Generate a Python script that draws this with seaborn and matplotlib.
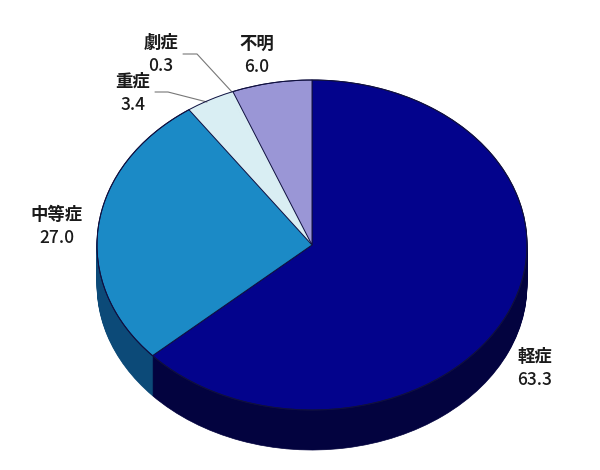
import matplotlib
matplotlib.use('Agg')
import matplotlib.pyplot as plt
from matplotlib.patches import Ellipse
import seaborn as sns

# data
categories = ['軽症', '中等症', '重症', '劇症', '不明']
values = [63.3, 27.0, 3.4, 0.3, 6.0]

top_colors = sns.color_palette(['#03038c', '#1b8ac6', '#d9eef3', '#d9eef3', '#9a96d6'])
side_colors = sns.color_palette(['#03033f', '#0c4a78', '#6f8a90', '#6f8a90', '#55528a'])

sns.set_theme(style='white')
plt.rcParams['font.family'] = ['Noto Sans CJK JP', 'DejaVu Sans']

# pie is squashed into an ellipse, these are in picture pixels
cx, cy, rx, ry = 312, 245, 215, 165
depth = 40
line_color = '#101040'


def to_data(px, py):
    return (px - cx) / rx, (cy - py) / ry


fig = plt.figure(figsize=(6, 4.7), dpi=100, facecolor='white')
ax = fig.add_axes([0, 0, 1, 1])

# side wall: the same pie stacked downward
for d in range(depth, 0, -1):
    side, _ = ax.pie(values, colors=side_colors, startangle=90, counterclock=False,
                     center=(0, -d / ry), radius=1, wedgeprops={'linewidth': 0.5})
    for w in side:
        w.set_edgecolor(w.get_facecolor())
        w.set_zorder(0.5)

# top face
wedges, _ = ax.pie(values, colors=top_colors, startangle=90, counterclock=False,
                   center=(0, 0), radius=1, wedgeprops={'linewidth': 0.7, 'edgecolor': line_color})

# 重症 and 劇症 run together in the reference, no line between them
for w in wedges[2:4]:
    w.set_edgecolor(w.get_facecolor())
    w.set_zorder(0.9)
ax.add_patch(Ellipse((0, 0), 2, 2, fill=False, edgecolor=line_color, linewidth=0.7, zorder=3))

ax.set_aspect('auto')
ax.set_xlim(to_data(0, 0)[0], to_data(600, 0)[0])
ax.set_ylim(to_data(0, 470)[1], to_data(0, 0)[1])
ax.axis('off')

# labels
label_pos = {'軽症': (535, 357), '中等症': (57, 215), '重症': (133, 82),
             '劇症': (161, 43), '不明': (257, 44)}
for name, val in zip(categories, values):
    px, py = label_pos[name]
    ax.text(*to_data(px, py), name, ha='center', va='center', fontsize=12.5,
            fontweight='bold', color='#1a1a1a')
    ax.text(*to_data(px, py + 23), f'{val:.1f}', ha='center', va='center', fontsize=12.5,
            fontweight='medium', color='#1a1a1a')

# leader lines
leaders = [[(183, 54), (197, 54), (232, 92)], [(155, 92), (168, 92), (207, 102)]]
for pts in leaders:
    xy = [to_data(*p) for p in pts]
    ax.plot([p[0] for p in xy], [p[1] for p in xy], color='#777777', linewidth=0.8)

fig.savefig('out.png', dpi=100)
